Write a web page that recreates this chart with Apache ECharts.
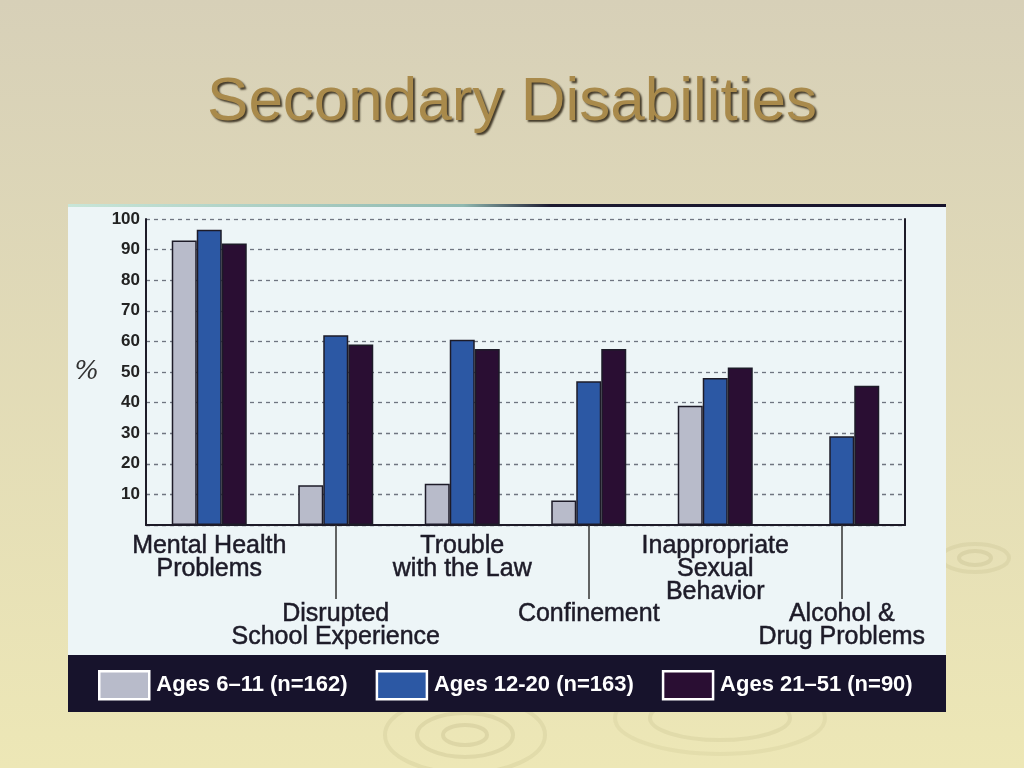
<!DOCTYPE html>
<html>
<head>
<meta charset="utf-8">
<title>Secondary Disabilities</title>
<script src="https://cdn.jsdelivr.net/npm/echarts@6/dist/echarts.min.js"></script>
<style>
  html, body { margin: 0; padding: 0; }
  #chart { width: 1024px; height: 768px; }
</style>
</head>
<body>
<div id="chart"></div>
<script>
// data
var categories = [
    'Mental Health\nProblems',
    'Disrupted\nSchool Experience',
    'Trouble\nwith the Law',
    'Confinement',
    'Inappropriate\nSexual\nBehavior',
    'Alcohol &\nDrug Problems'
];
var ages6to11 = [93, 13, 13.5, 8, 39, 0];
var ages12to20 = [96.5, 62, 60.5, 47, 48, 29];
var ages21to51 = [92, 59, 57.5, 57.5, 51.5, 45.5];
var seriesNames = ['Ages 6\u201311 (n=162)', 'Ages 12-20 (n=163)', 'Ages 21\u201351 (n=90)'];
var yTicks = [0, 100, 10]; // min, max, step

var ink = '#1d1b28';
var labelFont = '"Liberation Sans", Arial, sans-serif';

function splitLabel(value, tag) {
    return value.split('\n').map(function (l) { return '{' + tag + '|' + l + '}'; }).join('\n');
}

var myChart = echarts.init(document.getElementById('chart'));

var ripple = function (cx, cy, rx, ry, op) {
    return {
        type: 'ellipse',
        shape: { cx: cx, cy: cy, rx: rx, ry: ry },
        style: { fill: null, stroke: 'rgba(170,160,110,' + op + ')', lineWidth: 4 },
        z: -20
    };
};

var catLabel = {
    fontFamily: labelFont, fontSize: 25, lineHeight: 23, color: ink, align: 'center',
    textBorderColor: ink, textBorderWidth: 0.5
};

var option = {
    backgroundColor: {
        type: 'linear', x: 0, y: 0, x2: 0, y2: 1,
        colorStops: [{ offset: 0, color: '#d7d0b8' }, { offset: 1, color: '#ede7b6' }]
    },
    title: {
        text: 'Secondary Disabilities',
        left: 'center',
        top: 67,
        textStyle: {
            fontFamily: labelFont,
            fontSize: 62,
            fontWeight: 'normal',
            color: '#a98a4b',
            textShadowColor: 'rgba(40,30,15,0.85)',
            textShadowBlur: 2,
            textShadowOffsetX: 2,
            textShadowOffsetY: 2
        }
    },
    graphic: [
        ripple(465, 735, 22, 10, 0.22),
        ripple(465, 735, 48, 22, 0.2),
        ripple(465, 735, 80, 38, 0.16),
        ripple(720, 718, 70, 22, 0.16),
        ripple(720, 718, 105, 36, 0.13),
        ripple(975, 558, 16, 7, 0.2),
        ripple(975, 558, 34, 14, 0.15),
        // photo panel
        { type: 'rect', shape: { x: 68, y: 204, width: 878, height: 508 },
          style: { fill: '#edf5f7' }, z: -10 },
        { type: 'rect', shape: { x: 68, y: 204, width: 878, height: 3 },
          style: { fill: { type: 'linear', x: 0, y: 0, x2: 1, y2: 0,
              colorStops: [{ offset: 0, color: '#c9e6d8' }, { offset: 0.45, color: '#8fb8b0' },
                           { offset: 0.55, color: '#1c1a30' }, { offset: 1, color: '#16122c' }] } }, z: -9 },
        { type: 'rect', shape: { x: 68, y: 655, width: 878, height: 57 },
          style: { fill: '#17132c' }, z: -9 }
    ],
    legend: {
        left: 93,
        top: 665,
        icon: 'rect',
        itemWidth: 50,
        itemHeight: 28,
        itemGap: 28,
        itemStyle: { borderColor: '#ffffff', borderWidth: 2.5 },
        textStyle: {
            color: '#ffffff',
            fontFamily: labelFont,
            fontWeight: 'bold',
            fontSize: 22,
            padding: [0, 0, 0, 2]
        },
        data: seriesNames
    },
    grid: { left: 146, right: 119, top: 219, bottom: 243 },
    xAxis: [
        {
            type: 'category',
            data: categories,
            axisLine: { show: true, lineStyle: { color: ink, width: 2 } },
            axisTick: { show: false },
            axisLabel: {
                interval: 0,
                margin: 10,
                formatter: function (value, index) {
                    return index % 2 === 0 ? splitLabel(value, 'a') : '';
                },
                rich: { a: catLabel }
            }
        },
        {
            type: 'category',
            data: categories,
            position: 'bottom',
            axisLine: { show: false },
            axisTick: {
                show: true,
                alignWithLabel: true,
                interval: function (index) { return index % 2 === 1; },
                length: 74,
                lineStyle: { color: '#333', width: 1.5 }
            },
            axisLabel: {
                interval: 0,
                margin: 78,
                formatter: function (value, index) {
                    return index % 2 === 1 ? splitLabel(value, 'a') : '';
                },
                rich: { a: catLabel }
            }
        }
    ],
    yAxis: [
        {
            type: 'value',
            min: yTicks[0],
            max: yTicks[1],
            interval: yTicks[2],
            name: '%',
            nameLocation: 'middle',
            nameRotate: 0,
            nameGap: 47,
            nameTextStyle: { fontFamily: '"DejaVu Serif", serif', fontStyle: 'italic', fontSize: 26, color: '#333' },
            axisLine: { show: true, lineStyle: { color: ink, width: 2 } },
            axisTick: { show: false },
            axisLabel: {
                margin: 6,
                fontFamily: labelFont,
                fontWeight: 'bold',
                fontSize: 17,
                color: '#222',
                formatter: function (v) { return v === 0 ? '' : v; }
            },
            splitLine: {
                show: true,
                lineStyle: { color: '#6f7580', type: [4, 4], width: 1.3 }
            }
        },
        {
            type: 'value',
            position: 'right',
            min: yTicks[0],
            max: yTicks[1],
            interval: yTicks[2],
            axisLine: { show: true, lineStyle: { color: ink, width: 2 } },
            axisTick: { show: false },
            axisLabel: { show: false },
            splitLine: { show: false }
        }
    ],
    series: [
        { name: seriesNames[0], type: 'bar', data: ages6to11, barWidth: 25, barGap: '0%',
          itemStyle: { color: '#b8bbca', borderColor: ink, borderWidth: 1.5 } },
        { name: seriesNames[1], type: 'bar', data: ages12to20, barWidth: 25, barGap: '0%',
          itemStyle: { color: '#2c58a4', borderColor: ink, borderWidth: 1.5 } },
        { name: seriesNames[2], type: 'bar', data: ages21to51, barWidth: 25, barGap: '0%',
          itemStyle: { color: '#2a0e33', borderColor: ink, borderWidth: 1.5 } }
    ]
};
myChart.setOption(option);
</script>
</body>
</html>
